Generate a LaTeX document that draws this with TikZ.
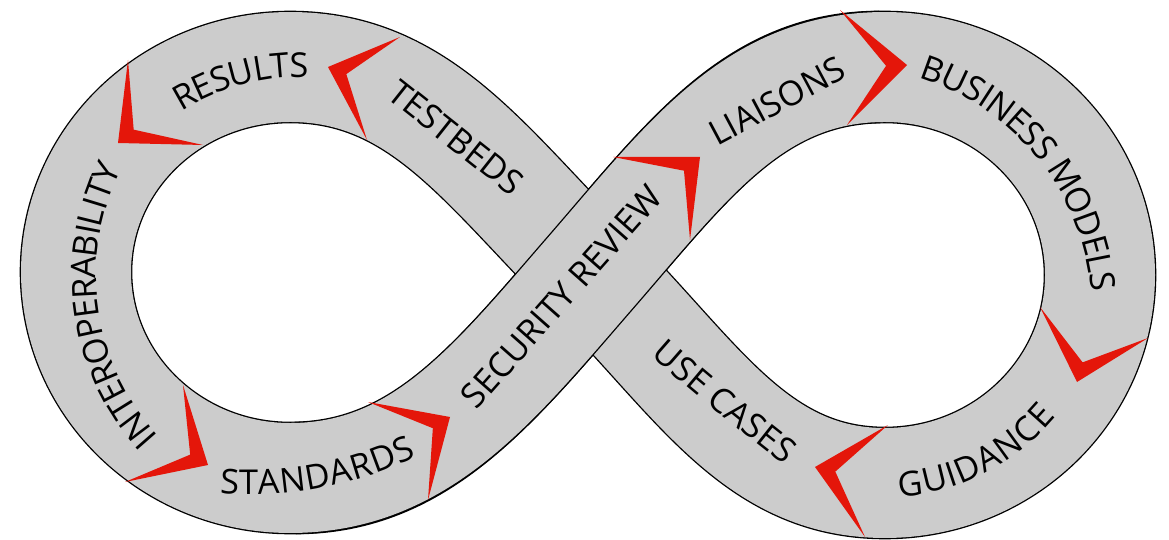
\documentclass[tikz,border=0pt]{standalone}
\usepackage{fontspec}
\setmainfont{Open Sans}
\usetikzlibrary{calc,decorations.text}

\definecolor{bandgray}{RGB}{204,204,204}
\definecolor{chevred}{RGB}{228,22,10}
\newcommand\stepfont{\fontsize{19.5}{21}\selectfont}

\begin{document}
\begin{tikzpicture}[
	x=0.02cm,y=0.02cm,
	bandfill/.style={
	  draw=bandgray,
	  line width=62.6pt
	},
	bandedge/.style={
	  draw=black,
	  line width=64.1pt
	},
	chev/.style={
	  fill=chevred
	},
	bandtext/.style={
	  decorate,
	  decoration={text along path,text align=center,raise=-7pt,
	    text={|\stepfont|#1}}
	}
]
\useasboundingbox (0,0) rectangle (1169,-540);

% key points of the eight
\coordinate (cross) at (591,-272);
\coordinate (rtop) at (885,-67);
\coordinate (rright) at (1100,-275);
\coordinate (rbot) at (885,-483);
\coordinate (ltop) at (290,-67);
\coordinate (lleft) at (76,-272);
\coordinate (lbot) at (290,-478);

% whole band
\draw[bandfill,preaction={bandedge}] (cross)
  .. controls (689,-159) and (755,-67) .. (rtop)
  .. controls (1003.7,-67) and (1100,-160.1) .. (rright)
  .. controls (1100,-389.9) and (1003.7,-483) .. (rbot)
  .. controls (755,-483) and (697,-378) .. (cross)
  .. controls (485,-166) and (420,-67) .. (ltop)
  .. controls (171.8,-67) and (76,-158.8) .. (lleft)
  .. controls (76,-385.8) and (171.8,-478) .. (lbot)
  .. controls (420,-478) and (493,-385) .. cycle;

% rising strand on top
\draw[bandfill,preaction={bandedge,shorten <=3pt,shorten >=3pt}] (lbot)
  .. controls (420,-478) and (493,-385) .. (cross)
  .. controls (689,-159) and (755,-67) .. (rtop);

% labels
\path[bandtext=INTEROPERABILITY] (239.3,-507.4)
  arc[start angle=247.75,end angle=127.75,radius=250];
\path[bandtext=RESULTS] (96.5,-182.5)
  arc[start angle=150,end angle=60,radius=235];
\path[bandtext=TESTBEDS] (354,-56.6) -- (558,-218.4);
\path[bandtext=STANDARDS] (119.2,-460.2)
  arc[start angle=250.5,end angle=310.5,radius=386];
\path[bandtext=SECURITY REVIEW] (429.1,-446.3) -- (693.9,-146.7);
\path[bandtext=LIAISONS] (671.2,-157.4) -- (882.8,-44.6);
\path[bandtext=BUSINESS MODELS] (806.2,-57.6)
  arc[start angle=98.85,end angle=-21.15,radius=258.5];
\path[bandtext=GUIDANCE] (820.1,-474.7)
  arc[start angle=252,end angle=342,radius=210];
\path[bandtext=USE CASES] (640,-329)
  .. controls (684,-370) and (764,-435) .. (812,-471);

% chevrons
\foreach \a/\v/\b in {
  {128,-60}/{118,-143}/{203,-145},
  {400,-37}/{328,-67}/{367,-140},
  {183,-385}/{208,-465}/{125,-482},
  {368,-402}/{450,-417}/{428,-500},
  {613,-157}/{700,-157}/{690,-240},
  {840,-10}/{907,-65}/{847,-125},
  {1040,-307}/{1077,-382}/{1148,-338},
  {888,-425}/{815,-467}/{865,-537}}
{
  \coordinate (tipa) at (\a);
  \coordinate (tipb) at (\b);
  \coordinate (apex) at (\v);
  \coordinate (mid) at ($(tipa)!0.5!(tipb)$);
  \fill[chev] (tipa) -- (apex) -- (tipb) -- ($(apex)!0.33!(mid)$) -- cycle;
}

\end{tikzpicture}
\end{document}
